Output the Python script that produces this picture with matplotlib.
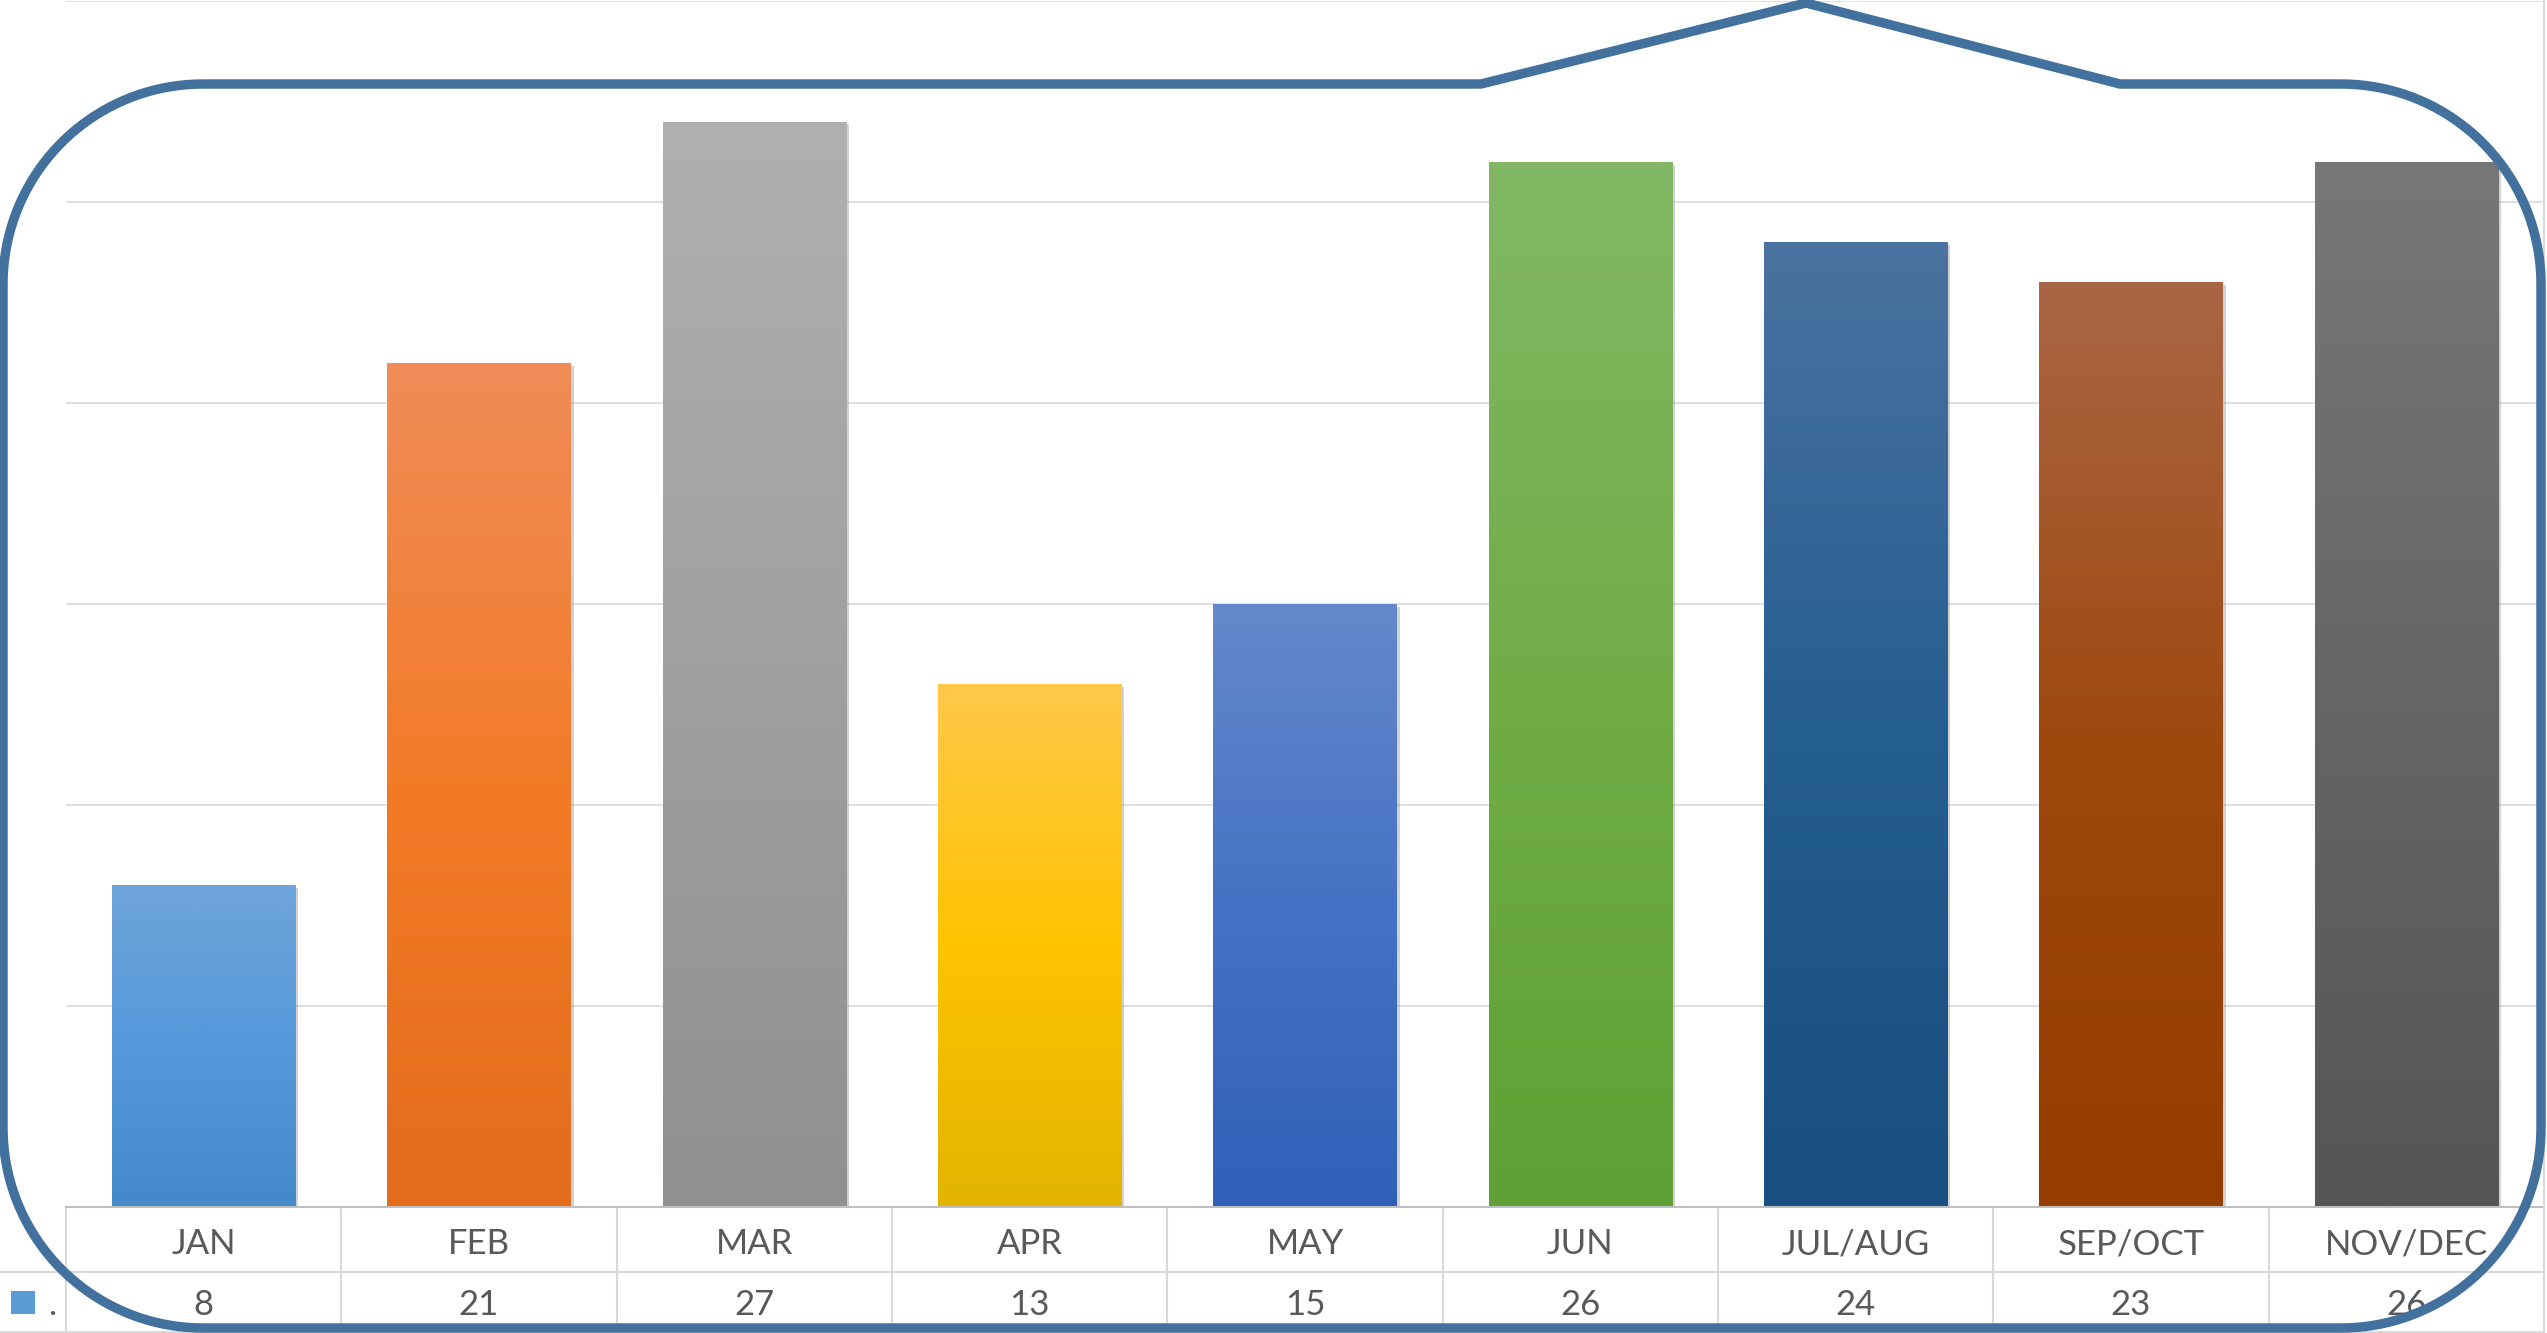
import numpy as np
import matplotlib
matplotlib.use("Agg")
import matplotlib.pyplot as plt
import matplotlib.transforms as mtransforms
from matplotlib.patches import Rectangle, Polygon
from matplotlib import patheffects as pe
from matplotlib.colors import to_rgb

# data
months = ["JAN", "FEB", "MAR", "APR", "MAY", "JUN", "JUL/AUG", "SEP/OCT", "NOV/DEC"]
values = [8, 21, 27, 13, 15, 26, 24, 23, 26]

# gradient stops per bar: top, middle, bottom
top_colors = ["#6FA5DA", "#F08C58", "#B0B0B0", "#FFC84A", "#6688CC", "#82B865", "#4B72A0", "#AA6644", "#777777"]
mid_colors = ["#5599DA", "#F37B28", "#A0A0A0", "#FFC300", "#4472C4", "#70AD47", "#255E91", "#9E480E", "#666666"]
bot_colors = ["#4489C8", "#E36C1A", "#909090", "#E2B400", "#3060B8", "#60A034", "#184E80", "#953C00", "#555555"]

W, H = 2547, 1333
fig = plt.figure(figsize=(W / 100, H / 100), dpi=100)
plt.rcParams['font.family'] = ['Lato', 'DejaVu Sans']

# plot area (pixel positions from the reference)
px_left, px_right, px_top, px_base = 66, 2544, 1, 1207
ax = fig.add_axes([px_left / W, 1 - px_base / H, (px_right - px_left) / W, (px_base - px_top) / H])
ax.set_xlim(-0.5, len(months) - 0.5)
ax.set_ylim(0, 30)
ax.set_yticks(np.arange(0, 31, 5))
ax.set_xticks([])
ax.tick_params(left=False, labelleft=False)
ax.yaxis.grid(True, color="#D9D9D9", linewidth=1.2)
ax.set_axisbelow(True)
for s in ax.spines.values():
    s.set_visible(False)


def gradient(c_top, c_mid, c_bot, n=256):
    t = np.linspace(0, 1, n)[:, None]  # 0 = bottom, 1 = top
    b, m, tp = (np.array(to_rgb(c)) for c in (c_bot, c_mid, c_top))
    lower = b + (m - b) * np.clip(t * 2, 0, 1)
    upper = m + (tp - m) * np.clip(t * 2 - 1, 0, 1)
    img = np.where(t < 0.5, lower, upper)
    return img[:, None, :]


x = np.arange(len(months))
bars = ax.bar(x, values, width=0.667, color=mid_colors, zorder=2,
              path_effects=[pe.SimplePatchShadow(offset=(2, -2), shadow_rgbFace="#808080", alpha=0.35), pe.Normal()])
for bar, ct, cm, cb in zip(bars, top_colors, mid_colors, bot_colors):
    bx, by = bar.get_x(), bar.get_y()
    im = ax.imshow(gradient(ct, cm, cb), extent=[bx, bx + bar.get_width(), by, by + bar.get_height()],
                   origin="lower", aspect="auto", zorder=3, interpolation="bilinear")
    im.set_clip_path(bar)
ax.set_xlim(-0.5, len(months) - 0.5)
ax.set_ylim(0, 30)

# data table under the plot
tr = mtransforms.blended_transform_factory(ax.transData, fig.transFigure)
grid_c = "#D9D9D9"
y_base = 1 - 1207 / H
y_mid = 1 - 1272 / H
y_bot = 1 - 1332 / H
ax.plot([-0.5, len(months) - 0.5], [y_base, y_base], transform=tr, color="#BFBFBF", lw=1.5, clip_on=False, zorder=4)
fig.add_artist(plt.Line2D([0, px_right / W], [y_mid, y_mid], color=grid_c, lw=1.5))
fig.add_artist(plt.Line2D([0, px_right / W], [y_bot, y_bot], color=grid_c, lw=1.5))
for xb in np.arange(-0.5, len(months), 1.0):
    ax.plot([xb, xb], [y_base, y_bot], transform=tr, color=grid_c, lw=1.5, clip_on=False)
fig.add_artist(plt.Line2D([px_right / W, px_right / W], [0, 1], color=grid_c, lw=1.5))

for xi, m, v in zip(x, months, values):
    ax.text(xi, 1 - 1244 / H, m, transform=tr, ha="center", va="center", fontsize=25, color="#595959")
    ax.text(xi, 1 - 1305 / H, str(v), transform=tr, ha="center", va="center", fontsize=25, color="#595959")

# legend key in the value row
fig.add_artist(Rectangle((11 / W, 1 - 1314 / H), 24 / W, 23 / H, transform=fig.transFigure,
                         facecolor="#5B9BD5", edgecolor="none"))
fig.text(52 / W, 1 - 1305 / H, ".", ha="center", va="center", fontsize=25, color="#595959")

# callout outline over everything
L, R, T, B, r = 3, 2541, 84, 1328, 200
pts = [(L + r, T), (1481, T), (1806, 3), (2120, T), (R - r, T)]
def arc(cx, cy, a0, a1):
    t = np.radians(np.linspace(a0, a1, 40))
    return list(zip(cx + r * np.cos(t), cy - r * np.sin(t)))
pts += arc(R - r, T + r, 90, 0)
pts += arc(R - r, B - r, 0, -90)
pts += arc(L + r, B - r, -90, -180)
pts += arc(L + r, T + r, 180, 90)
pts = np.array(pts, dtype=float)
pts[:, 0] /= W
pts[:, 1] = 1 - pts[:, 1] / H
fig.add_artist(Polygon(pts, closed=True, fill=False, edgecolor="#41719C", linewidth=6.8,
                       transform=fig.transFigure, zorder=10, joinstyle="miter"))

fig.savefig("out.png", dpi=100)
